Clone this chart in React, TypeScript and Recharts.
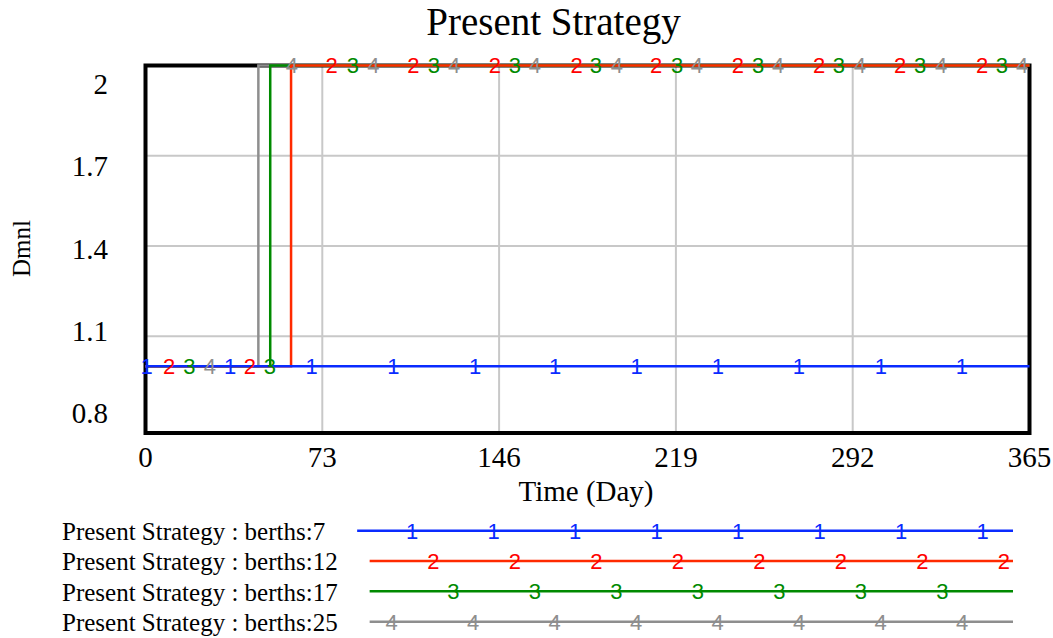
import React from 'react';
import { ComposedChart, Line, Scatter, XAxis, YAxis, CartesianGrid, ReferenceArea } from 'recharts';

// ---- data ----
const seriesNames = [
  'Present Strategy : berths:7',
  'Present Strategy : berths:12',
  'Present Strategy : berths:17',
  'Present Strategy : berths:25',
];
const seriesDigits = ['1', '2', '3', '4'];

// step series (time in days, value in Dmnl)
const berths7 = [{ t: 0, v: 1 }, { t: 365, v: 1 }];
const berths12 = [{ t: 0, v: 1 }, { t: 60.1, v: 2 }, { t: 365, v: 2 }];
const berths17 = [{ t: 0, v: 1 }, { t: 51.5, v: 2 }, { t: 365, v: 2 }];
const berths25 = [{ t: 0, v: 1 }, { t: 46.6, v: 2 }, { t: 365, v: 2 }];

// times at which the numbered series markers are drawn
const marks7 = [0.5, 34.9, 68.6, 102.3, 136.1, 169.1, 202.8, 236.3, 269.8, 303.6, 337.1];
const marks12 = [9.8, 43.1, 76.9, 110.6, 144.3, 178.0, 210.8, 244.6, 278.1, 311.6, 345.4];
const marks17 = [18.1, 51.4, 85.6, 119.1, 152.5, 186.0, 219.5, 252.9, 286.3, 319.8, 353.6];
const marks25 = [26.6, 60.4, 94.1, 127.4, 160.8, 194.6, 227.7, 261.2, 295.0, 328.5, 362.0];

const xTicks = [0, 73, 146, 219, 292, 365];
const xGrid = [73, 146, 219, 292];
const yGrid = [1.1, 1.4, 1.7];
const yTickLabels = [0.8, 1.1, 1.4, 1.7, 2];

const titleText = 'Present Strategy';
const xTitle = 'Time (Day)';
const yTitle = 'Dmnl';

// ---- styles ----
const lineColors = ['#0a2bff', '#ff2a00', '#008a00', '#8e8e8e'];
const markColors = ['#0a2bff', '#ff0000', '#008a00', '#8e8e8e'];
const SERIF = "'Liberation Serif', 'Times New Roman', serif";
const SANS = "'Liberation Sans', Arial, sans-serif";

const allSeries = [berths7, berths12, berths17, berths25];
const allMarks = [marks7, marks12, marks17, marks25];

function valueAt(series: { t: number; v: number }[], t: number) {
  let v = series[0].v;
  for (const p of series) if (p.t <= t) v = p.v;
  return v;
}

const makeShape = (digit: string, color: string) => (props: any) => (
  <text
    x={props.cx}
    y={props.cy}
    dy="0.36em"
    textAnchor="middle"
    fontSize={22}
    fontFamily={SANS}
    fill={color}
  >
    {digit}
  </text>
);

function measure(text: string, font: string) {
  try {
    const c = document.createElement('canvas').getContext('2d');
    if (c) {
      c.font = font;
      return c.measureText(text).width;
    }
  } catch (e) {}
  return text.length * 10;
}

const W = 1053;
const H = 638;

function Overlay() {
  const legendX = 62;
  const rowY0 = 530.7;
  const rowGap = 30.33;
  const lineEnd = 1013;
  const markStarts = [412, 433.3, 453.3, 391.7];
  const markGap = 81.5;
  return (
    <svg width={W} height={H} style={{ position: 'absolute', left: 0, top: 0, pointerEvents: 'none' }}>
      <text x={553.5} y={35} textAnchor="middle" fontSize={39} fontFamily={SERIF} fill="#000">
        {titleText}
      </text>
      <text x={586} y={501} textAnchor="middle" fontSize={29} fontFamily={SERIF} fill="#000">
        {xTitle}
      </text>
      <text
        x={30}
        y={248.5}
        textAnchor="middle"
        fontSize={25}
        fontFamily={SERIF}
        fill="#000"
        transform="rotate(-90 30 248.5)"
      >
        {yTitle}
      </text>
      {seriesNames.map((name, i) => {
        const y = rowY0 + rowGap * i;
        const start = legendX + measure(name, `25px ${SERIF}`) + 32;
        const xs: number[] = [];
        for (let x = markStarts[i]; x <= lineEnd; x += markGap) xs.push(x);
        return (
          <g key={name}>
            <text x={legendX} y={y + 9.3} fontSize={25} fontFamily={SERIF} fill="#000">
              {name}
            </text>
            <line x1={start} x2={lineEnd} y1={y} y2={y} stroke={lineColors[i]} strokeWidth={2.5} />
            {xs.map((x) => (
              <text
                key={x}
                x={x}
                y={y}
                dy="0.36em"
                textAnchor="middle"
                fontSize={22}
                fontFamily={SANS}
                fill={markColors[i]}
              >
                {seriesDigits[i]}
              </text>
            ))}
          </g>
        );
      })}
    </svg>
  );
}

export default function App() {
  const drawOrder = [3, 2, 1, 0];
  return (
    <div style={{ position: 'absolute', left: 0, top: 0, width: W, height: H, background: '#fff' }}>
      <ComposedChart
        width={W}
        height={H}
        margin={{ top: 65.5, right: 23.5, left: 95.5, bottom: 145 }}
      >
        <CartesianGrid
          yAxisId="v"
          stroke="#c8c8c8"
          strokeWidth={2}
          horizontalValues={yGrid}
          verticalValues={xGrid}
        />
        <XAxis
          type="number"
          dataKey="t"
          domain={[0, 365]}
          ticks={xTicks}
          interval={0}
          axisLine={false}
          tickLine={false}
          tickSize={0}
          tickMargin={13}
          height={60}
          tick={{ fontSize: 29, fill: '#000', fontFamily: SERIF }}
        />
        <YAxis
          yAxisId="v"
          type="number"
          dataKey="v"
          domain={[0.778, 2]}
          ticks={yGrid}
          hide
          width={0}
        />
        <YAxis
          yAxisId="lab"
          type="number"
          domain={[0.7273, 2.0655]}
          allowDataOverflow
          ticks={yTickLabels}
          interval={0}
          width={50}
          axisLine={false}
          tickLine={false}
          tickSize={0}
          tickMargin={37.5}
          tickFormatter={(v: number) => (v === 2 ? '2' : v.toFixed(1))}
          tick={{ fontSize: 29, fill: '#000', fontFamily: SERIF }}
        />
        <ReferenceArea
          yAxisId="v"
          x1={0}
          x2={365}
          y1={0.778}
          y2={2}
          fill="none"
          fillOpacity={0}
          stroke="#000"
          strokeWidth={4}
          ifOverflow="visible"
          zIndex={-50}
        />
        {drawOrder.map((i) => (
          <Line
            key={'l' + i}
            yAxisId="v"
            data={allSeries[i]}
            dataKey="v"
            type="stepAfter"
            stroke={lineColors[i]}
            strokeWidth={2.5}
            dot={false}
            activeDot={false}
            isAnimationActive={false}
          />
        ))}
        {drawOrder.map((i) => (
          <Scatter
            key={'s' + i}
            yAxisId="v"
            data={allMarks[i].map((t) => ({ t, v: valueAt(allSeries[i], t) }))}
            dataKey="v"
            shape={makeShape(seriesDigits[i], markColors[i])}
            isAnimationActive={false}
          />
        ))}
      </ComposedChart>
      <Overlay />
    </div>
  );
}
